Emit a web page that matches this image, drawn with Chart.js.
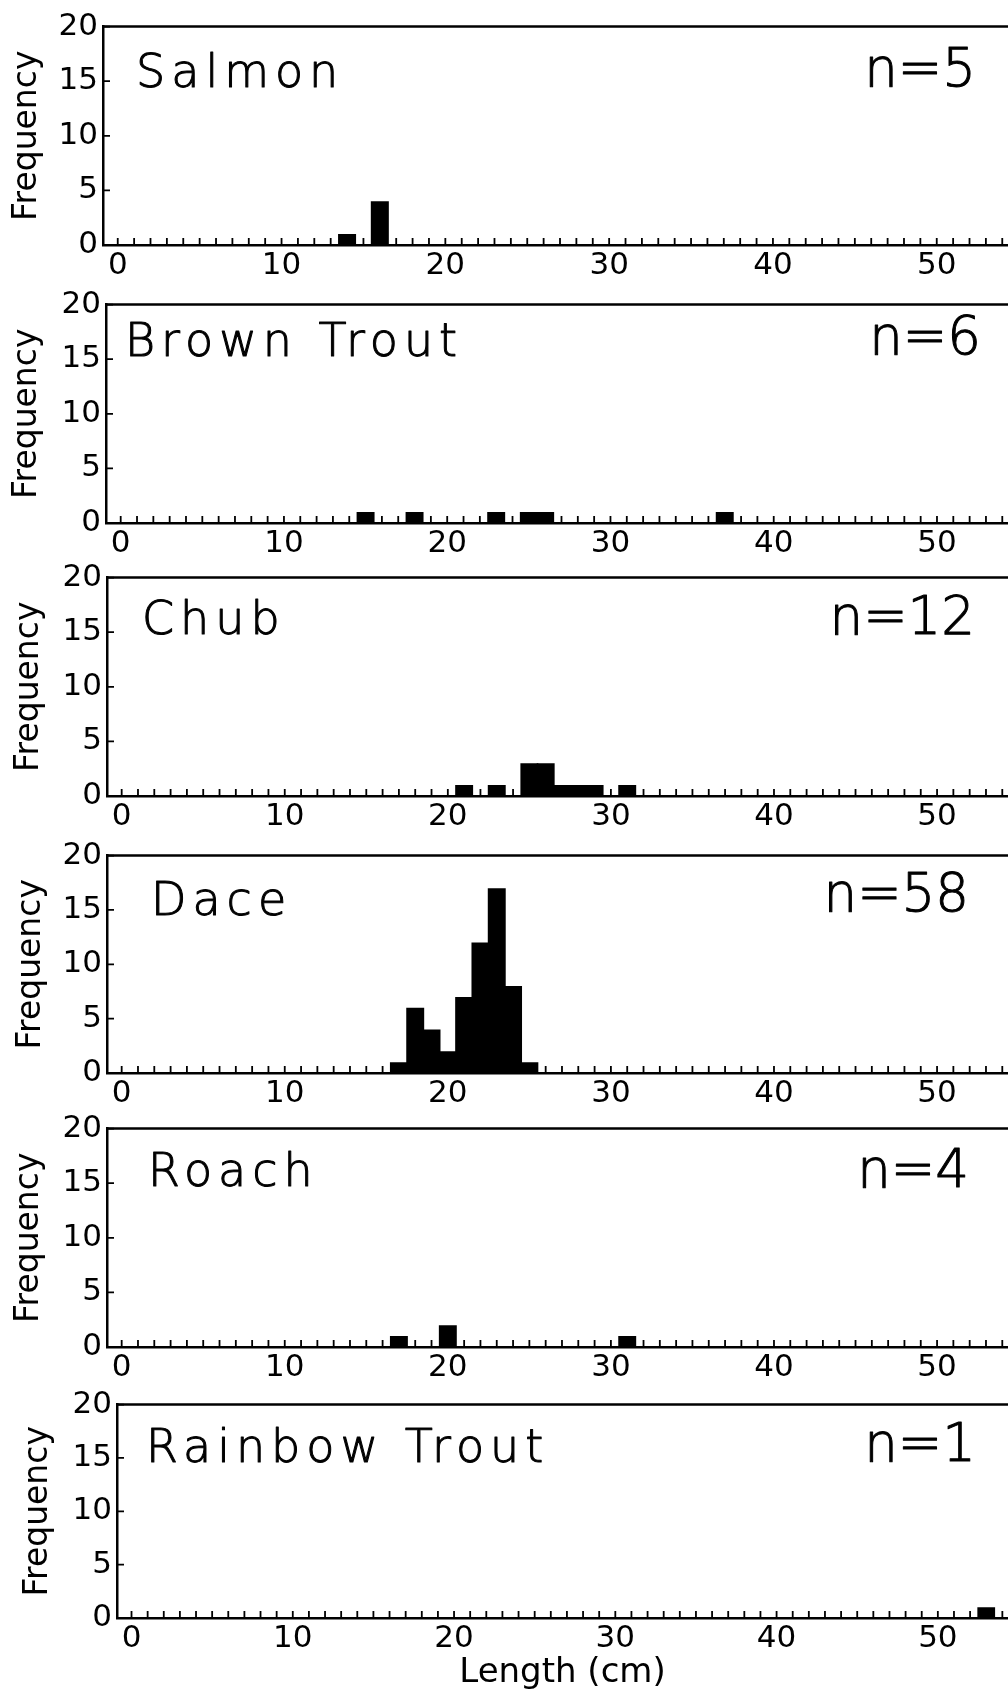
<!DOCTYPE html>
<html>
<head>
<meta charset="utf-8">
<title>Length frequency by species</title>
<script src="https://cdn.jsdelivr.net/npm/chart.js@4.4.0/dist/chart.umd.min.js"></script>
<style>
  html, body { margin: 0; padding: 0; background: #fff; }
  body { position: relative; width: 1008px; height: 1694px; overflow: hidden; }
  canvas { position: absolute; left: 0; }
</style>
</head>
<body>
<script>
// Data: bin centres (cm) and counts for each species
const speciesNames = ['Salmon', 'Brown Trout', 'Chub', 'Dace', 'Roach', 'Rainbow Trout'];
const sampleSizes = ['n=5', 'n=6', 'n=12', 'n=58', 'n=4', 'n=1'];

const salmonLengths = [14, 16];
const salmonCounts = [1, 4];
const brownTroutLengths = [15, 18, 23, 25, 26, 37];
const brownTroutCounts = [1, 1, 1, 1, 1, 1];
const chubLengths = [21, 23, 25, 26, 27, 28, 29, 31];
const chubCounts = [1, 1, 3, 3, 1, 1, 1, 1];
const daceLengths = [17, 18, 19, 20, 21, 22, 23, 24, 25];
const daceCounts = [1, 6, 4, 2, 7, 12, 17, 8, 1];
const roachLengths = [17, 20, 31];
const roachCounts = [1, 2, 1];
const rainbowTroutLengths = [53];
const rainbowTroutCounts = [1];

const xTickLabels = [0, 10, 20, 30, 40, 50];
const yTickLabels = [0, 5, 10, 15, 20];

const lengthSets = [salmonLengths, brownTroutLengths, chubLengths, daceLengths, roachLengths, rainbowTroutLengths];
const countSets = [salmonCounts, brownTroutCounts, chubCounts, daceCounts, roachCounts, rainbowTroutCounts];

// Layout of each panel on the page (pixels)
const panelLayout = [
  { top: 23,   bottom: 245,  left: 103, titlePad: 8,  nameX: 136, nameDy: 60, nDy: 59, nRight: 976 },
  { top: 301,  bottom: 523,  left: 106, titlePad: 8,  nameX: 125, nameDy: 51, nDy: 49, nRight: 981 },
  { top: 574,  bottom: 796,  left: 107, titlePad: 10, nameX: 142, nameDy: 56, nDy: 56, nRight: 975 },
  { top: 852,  bottom: 1073, left: 107, titlePad: 12, nameX: 151, nameDy: 59, nDy: 55, nRight: 969 },
  { top: 1125, bottom: 1347, left: 107, titlePad: 10, nameX: 148, nameDy: 57, nDy: 58, nRight: 969 },
  { top: 1401, bottom: 1618, left: 117, titlePad: 19, nameX: 146, nameDy: 57, nDy: 56, nRight: 976 }
];

const FONT = "'DejaVu Sans', sans-serif";
const TOP_PAD = 20;

// Frame, inward ticks and panel labels
const frameTicks = {
  id: 'frameTicks',
  afterDatasetsDraw(chart, args, opts) {
    const { ctx, chartArea: a, scales: { x, y } } = chart;
    ctx.save();
    ctx.strokeStyle = '#000';
    ctx.lineWidth = 2.5;
    ctx.beginPath();
    ctx.moveTo(a.left - 1, a.top);
    ctx.lineTo(a.right, a.top);
    ctx.stroke();

    ctx.lineWidth = 1.8;
    ctx.beginPath();
    x.ticks.forEach(t => {
      const px = x.getPixelForValue(t.value);
      ctx.moveTo(px, a.bottom);
      ctx.lineTo(px, a.bottom - 7);
    });
    y.ticks.forEach(t => {
      const py = y.getPixelForValue(t.value);
      ctx.moveTo(a.left, py);
      ctx.lineTo(a.left + 7, py);
    });
    ctx.stroke();

    // thin font, thickened a little with an outline
    ctx.fillStyle = '#000';
    ctx.lineWidth = 1;
    ctx.lineJoin = 'round';
    ctx.textBaseline = 'alphabetic';
    ctx.font = '200 46px ' + FONT;
    ctx.letterSpacing = '6px';
    ctx.textAlign = 'left';
    ctx.fillText(opts.name, opts.nameX, a.top + opts.nameDy);
    ctx.strokeText(opts.name, opts.nameX, a.top + opts.nameDy);
    ctx.font = '200 53px ' + FONT;
    ctx.letterSpacing = '0px';
    ctx.textAlign = 'right';
    ctx.fillText(opts.n, opts.nRight, a.top + opts.nDy);
    ctx.strokeText(opts.n, opts.nRight, a.top + opts.nDy);
    ctx.restore();
  }
};

function makePanel(i) {
  const lay = panelLayout[i];
  const last = i === panelLayout.length - 1;
  const xAxisHeight = last ? 76 : 45;
  const canvas = document.createElement('canvas');
  canvas.width = 1008;
  canvas.height = TOP_PAD + (lay.bottom - lay.top) + xAxisHeight;
  canvas.style.top = (lay.top - TOP_PAD) + 'px';
  document.body.appendChild(canvas);

  const points = lengthSets[i].map((len, k) => ({ x: len, y: countSets[i][k] }));

  new Chart(canvas, {
    type: 'bar',
    data: {
      datasets: [{
        data: points,
        backgroundColor: '#000',
        borderWidth: 0,
        barPercentage: 1.1,
        categoryPercentage: 1
      }]
    },
    plugins: [frameTicks],
    options: {
      responsive: false,
      animation: false,
      layout: { padding: { top: TOP_PAD, left: 0, right: 0, bottom: 0 } },
      plugins: {
        legend: { display: false },
        tooltip: { enabled: false },
        frameTicks: {
          name: speciesNames[i],
          n: sampleSizes[i],
          nameX: lay.nameX,
          nameDy: lay.nameDy,
          nDy: lay.nDy,
          nRight: lay.nRight
        }
      },
      scales: {
        x: {
          type: 'linear',
          offset: false,
          min: -0.9,
          max: 54.35,
          grid: { display: false, drawTicks: false },
          border: { display: true, color: '#000', width: 2.5 },
          ticks: {
            stepSize: 1,
            includeBounds: false,
            autoSkip: false,
            maxRotation: 0,
            padding: 2,
            color: '#000',
            font: { family: FONT, size: 31 },
            callback: v => xTickLabels.includes(v) ? String(v) : ''
          },
          title: {
            display: last,
            text: 'Length (cm)',
            color: '#000',
            font: { family: FONT, size: 34 },
            padding: 0
          },
          afterFit: s => { s.height = xAxisHeight; }
        },
        y: {
          min: 0,
          max: 20,
          grid: { display: false, drawTicks: false },
          border: { display: true, color: '#000', width: 2.5 },
          ticks: {
            stepSize: 5,
            padding: 5,
            color: '#000',
            font: { family: FONT, size: 31 },
            callback: v => yTickLabels.includes(v) ? String(v) : ''
          },
          title: {
            display: true,
            text: 'Frequency',
            color: '#000',
            font: { family: FONT, size: 33 },
            padding: { top: lay.titlePad, bottom: 0 }
          },
          afterFit: s => { s.width = lay.left; }
        }
      }
    }
  });
}

for (let i = 0; i < panelLayout.length; i++) makePanel(i);
</script>
</body>
</html>
